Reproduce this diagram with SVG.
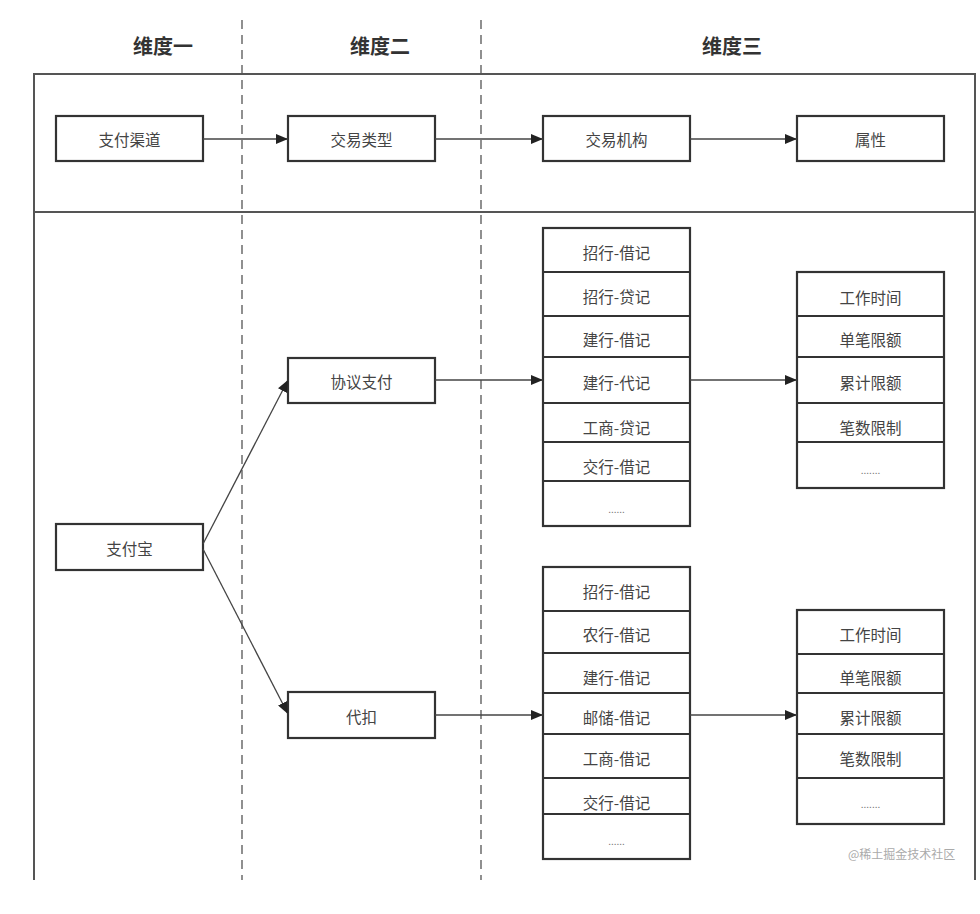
<svg xmlns="http://www.w3.org/2000/svg" width="980" height="914" viewBox="0 0 980 914">
<defs>
<marker id="ah" markerWidth="12" markerHeight="10" refX="12" refY="5" orient="auto" markerUnits="userSpaceOnUse">
<path d="M0,0 L12,5 L0,10 Z" fill="#222"/>
</marker>
<style>
.box{fill:#fff;stroke:#333;stroke-width:2.2}
.cell{fill:none;stroke:#333;stroke-width:2.2}
.t{font-family:"Noto Sans CJK SC","Noto Sans",sans-serif;font-size:15.5px;fill:#444;text-anchor:middle;dominant-baseline:central}
.d{font-family:"Noto Sans CJK SC","Noto Sans",sans-serif;font-size:10px;fill:#777;text-anchor:middle;dominant-baseline:central}
.h{font-family:"Noto Sans CJK SC","Noto Sans",sans-serif;font-size:20px;font-weight:bold;fill:#333;text-anchor:middle;dominant-baseline:central}
.dash{stroke:#555;stroke-width:1.3;stroke-dasharray:9,6;fill:none}
.frame{stroke:#555;stroke-width:2;fill:none}
.c{stroke:#444;stroke-width:1.3;fill:none;marker-end:url(#ah)}
.wm{font-family:"Noto Sans CJK SC","Noto Sans",sans-serif;font-size:12px;fill:#aaa;text-anchor:start;dominant-baseline:central}
</style>
</defs>
<rect width="980" height="914" fill="#fff"/>

<g id="frame">
<path class="frame" d="M34,880 V74 H975 V880"/>
<line class="frame" x1="34" y1="212" x2="975" y2="212"/>
<line class="dash" x1="242" y1="20" x2="242" y2="880"/>
<line class="dash" x1="481" y1="20" x2="481" y2="880"/>
</g>

<g id="headers">
<text class="h" x="163" y="45">维度一</text>
<text class="h" x="380" y="45">维度二</text>
<text class="h" x="732" y="45">维度三</text>
</g>

<g id="n-channel"><rect class="box" x="56" y="116" width="147" height="45"/><text class="t" x="129.5" y="139">支付渠道</text></g>
<g id="n-type"><rect class="box" x="288" y="116" width="147" height="45"/><text class="t" x="361.5" y="139">交易类型</text></g>
<g id="n-inst"><rect class="box" x="543" y="116" width="147" height="45"/><text class="t" x="616.5" y="139">交易机构</text></g>
<g id="n-attr"><rect class="box" x="797" y="116" width="147" height="45"/><text class="t" x="870.5" y="139">属性</text></g>

<g id="n-alipay"><rect class="box" x="56" y="524" width="147" height="46"/><text class="t" x="129.5" y="548">支付宝</text></g>
<g id="n-xieyi"><rect class="box" x="288" y="358" width="147" height="45"/><text class="t" x="361.5" y="381">协议支付</text></g>
<g id="n-daikou"><rect class="box" x="288" y="692" width="147" height="46"/><text class="t" x="361.5" y="716">代扣</text></g>

<g id="n-list1">
<rect class="box" x="543" y="228" width="147" height="298"/>
<path class="cell" d="M543,272H690M543,316H690M543,357H690M543,403H690M543,442H690M543,481H690"/>
<text class="t" x="616.5" y="252">招行-借记</text>
<text class="t" x="616.5" y="296">招行-贷记</text>
<text class="t" x="616.5" y="339">建行-借记</text>
<text class="t" x="616.5" y="382">建行-代记</text>
<text class="t" x="616.5" y="427">工商-贷记</text>
<text class="t" x="616.5" y="466">交行-借记</text>
<text class="d" x="616.5" y="508">......</text>
</g>

<g id="n-attr1">
<rect class="box" x="797" y="272" width="147" height="216"/>
<path class="cell" d="M797,316H944M797,357H944M797,403H944M797,442H944"/>
<text class="t" x="870.5" y="297">工作时间</text>
<text class="t" x="870.5" y="339">单笔限额</text>
<text class="t" x="870.5" y="382">累计限额</text>
<text class="t" x="870.5" y="427">笔数限制</text>
<text class="d" x="870.5" y="469">.......</text>
</g>

<g id="n-list2">
<rect class="box" x="543" y="567" width="147" height="292"/>
<path class="cell" d="M543,611H690M543,653H690M543,693H690M543,734H690M543,778H690M543,814H690"/>
<text class="t" x="616.5" y="591">招行-借记</text>
<text class="t" x="616.5" y="634">农行-借记</text>
<text class="t" x="616.5" y="677">建行-借记</text>
<text class="t" x="616.5" y="717">邮储-借记</text>
<text class="t" x="616.5" y="758">工商-借记</text>
<text class="t" x="616.5" y="802">交行-借记</text>
<text class="d" x="616.5" y="840">......</text>
</g>

<g id="n-attr2">
<rect class="box" x="797" y="610" width="147" height="214"/>
<path class="cell" d="M797,654H944M797,693H944M797,734H944M797,778H944"/>
<text class="t" x="870.5" y="634">工作时间</text>
<text class="t" x="870.5" y="677">单笔限额</text>
<text class="t" x="870.5" y="717">累计限额</text>
<text class="t" x="870.5" y="758">笔数限制</text>
<text class="d" x="870.5" y="803">.......</text>
</g>

<g id="connectors">
<line class="c" x1="203" y1="139" x2="288" y2="139"/>
<line class="c" x1="435" y1="139" x2="543" y2="139"/>
<line class="c" x1="690" y1="139" x2="797" y2="139"/>
<line class="c" x1="203" y1="544" x2="288" y2="380"/>
<line class="c" x1="203" y1="549" x2="288" y2="714"/>
<line class="c" x1="435" y1="380" x2="543" y2="380"/>
<line class="c" x1="690" y1="380" x2="797" y2="380"/>
<line class="c" x1="435" y1="715" x2="543" y2="715"/>
<line class="c" x1="690" y1="715" x2="797" y2="715"/>
</g>

<text class="wm" x="848" y="853">@稀土掘金技术社区</text>
</svg>
